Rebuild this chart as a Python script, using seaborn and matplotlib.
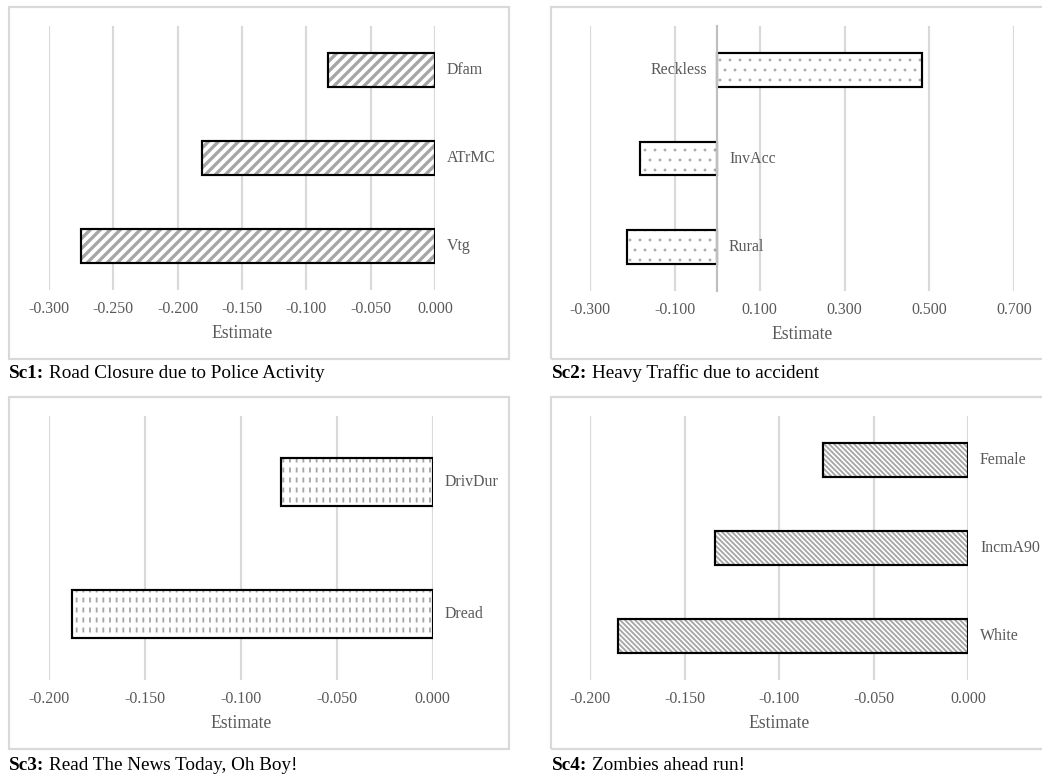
import numpy as np
import pandas as pd
import matplotlib
matplotlib.use("Agg")
import matplotlib.pyplot as plt
import seaborn as sns
from matplotlib.patches import Rectangle
from matplotlib.ticker import FixedLocator, FormatStrFormatter

# ---------------- data ----------------
sc1_labels = ["Dfam", "ATrMC", "Vtg"]
sc1_values = [-0.083, -0.181, -0.275]
sc1_ticks = [-0.300, -0.250, -0.200, -0.150, -0.100, -0.050, 0.0]

sc2_labels = ["Reckless", "InvAcc", "Rural"]
sc2_values = [0.482, -0.183, -0.212]
sc2_ticks = [-0.300, -0.100, 0.100, 0.300, 0.500, 0.700]

sc3_labels = ["DrivDur", "Dread"]
sc3_values = [-0.079, -0.188]
sc3_ticks = [-0.200, -0.150, -0.100, -0.050, 0.0]

sc4_labels = ["Female", "IncmA90", "White"]
sc4_values = [-0.077, -0.134, -0.185]
sc4_ticks = [-0.200, -0.150, -0.100, -0.050, 0.0]

captions_bold = ["Sc1:", "Sc2:", "Sc3:", "Sc4:"]
captions_text = ["Road Closure due to Police Activity",
                 "Heavy Traffic due to accident",
                 "Read The News Today, Oh Boy!",
                 "Zombies ahead run!"]

# ---------------- style ----------------
sns.set_theme(style="white")
plt.rcParams['font.family'] = ['Liberation Serif', 'DejaVu Serif']

W, H, DPI = 1042, 776, 120
fig = plt.figure(figsize=(W / DPI, H / DPI), dpi=DPI)

GRAY_TXT = '#595959'
GRID = '#d9d9d9'


def rect_px(x0, y0, x1, y1):
    return [x0 / W, 1 - y1 / H, (x1 - x0) / W, (y1 - y0) / H]


def set_hlw(p, lw):
    if hasattr(p, 'set_hatch_linewidth'):
        p.set_hatch_linewidth(lw)


def panel(rect, labels, values, ticks, hatch, hatch_lw, hatch_color, width,
          zero_axis=False, overlay=None):
    ax = fig.add_axes(rect)
    df = pd.DataFrame({'label': labels, 'value': values})
    sns.barplot(data=df, x='value', y='label', orient='h', color='white',
                saturation=1, width=width, linewidth=0, edgecolor=hatch_color,
                errorbar=None, ax=ax)
    for p in ax.patches:
        p.set_hatch(hatch)
        p.set_edgecolor(hatch_color)
        set_hlw(p, hatch_lw)
        p.set_zorder(2)
    n0 = len(ax.patches)
    if overlay is not None:
        sns.barplot(data=df, x='value', y='label', orient='h', color='white',
                    fill=False, width=width, linewidth=0, errorbar=None, ax=ax)
        for p in ax.patches[n0:]:
            p.set_hatch(overlay[0])
            p.set_edgecolor('white')
            set_hlw(p, overlay[1])
            p.set_zorder(2.1)
        n0 = len(ax.patches)
    sns.barplot(data=df, x='value', y='label', orient='h', color='black',
                fill=False, width=width, linewidth=1.3, errorbar=None, ax=ax)
    for p in ax.patches[n0:]:
        p.set_edgecolor('black')
        p.set_zorder(2.2)

    ax.set_xlim(ticks[0], ticks[-1])
    ax.set_ylim(len(labels) - 0.5, -0.5)
    ax.xaxis.set_major_locator(FixedLocator(ticks))
    ax.xaxis.set_major_formatter(FormatStrFormatter('%.3f'))
    ax.grid(axis='x', color=GRID, linewidth=1.3)
    ax.grid(axis='y', visible=False)
    ax.set_axisbelow(True)
    ax.tick_params(axis='x', length=0, labelsize=9.5, labelcolor=GRAY_TXT, pad=6.5)
    ax.set_xlabel('Estimate', fontsize=10.5, color=GRAY_TXT, labelpad=5)
    ax.set_ylabel('')
    for s in ax.spines.values():
        s.set_visible(False)
    ax.set_facecolor('none')
    if zero_axis:
        sp = ax.spines['left']
        sp.set_visible(True)
        sp.set_position(('data', 0))
        sp.set_color('#bfbfbf')
        sp.set_linewidth(1.3)
        sp.set_zorder(3)
        ax.yaxis.set_major_locator(FixedLocator(np.arange(len(labels) + 1) - 0.5))
        ax.tick_params(axis='y', length=2.5, width=1, color='#bfbfbf',
                       direction='out', labelleft=False)
    else:
        ax.set_yticks([])
    for i, (lab, v) in enumerate(zip(labels, values)):
        if v < 0:
            ax.annotate(lab, xy=(0, i), xytext=(7, 0), textcoords='offset points',
                        ha='left', va='center', fontsize=9.5, color=GRAY_TXT)
        else:
            ax.annotate(lab, xy=(0, i), xytext=(-6, 0), textcoords='offset points',
                        ha='right', va='center', fontsize=9.5, color=GRAY_TXT)
    return ax


panel(rect_px(49, 26, 435, 290), sc1_labels, sc1_values, sc1_ticks,
      '////', 2.0, '#a6a6a6', 0.38)
panel(rect_px(590, 26, 1014.3, 291), sc2_labels, sc2_values, sc2_ticks,
      '..', 0.5, '#a8a8a8', 0.38, zero_axis=True)
panel(rect_px(48.7, 416, 432.7, 680), sc3_labels, sc3_values, sc3_ticks,
      '|||', 1.1, '#a6a6a6', 0.36, overlay=('--', 3.0))
panel(rect_px(590, 416, 968.3, 680), sc4_labels, sc4_values, sc4_ticks,
      '\\' * 8, 1.1, '#a6a6a6', 0.38)

# outer boxes
for (x0, y0, x1, y1) in [(9, 7, 509, 359), (550.7, 7, 1060, 359),
                         (9, 397, 509, 749), (550.7, 397, 1060, 749)]:
    r = rect_px(x0, y0, x1, y1)
    fig.patches.append(Rectangle((r[0], r[1]), r[2], r[3], transform=fig.transFigure,
                                 fill=False, edgecolor=GRID, linewidth=1.3))

# captions
for (x, y), b, t in zip([(9, 373), (552, 373), (9, 765), (552, 765)],
                        captions_bold, captions_text):
    tb = fig.text(x / W, 1 - y / H, b, fontsize=11.5, fontweight='bold',
                  ha='left', va='center', color='black')
    plt.annotate(t, xy=(1, 0), xycoords=tb, xytext=(3, 0), textcoords='offset points',
                 ha='left', va='bottom', fontsize=11.5, color='black',
                 annotation_clip=False)

fig.savefig('out.png', dpi=DPI)
